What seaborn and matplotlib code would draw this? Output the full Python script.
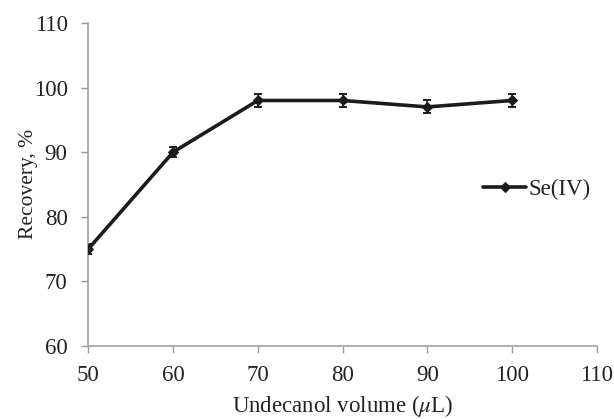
import matplotlib
matplotlib.use("Agg")
import matplotlib.pyplot as plt
import seaborn as sns
import pandas as pd

volume = [50, 60, 70, 80, 90, 100]
recovery = [75, 90, 98, 98, 97, 98]
errors = [0.8, 0.8, 1.0, 1.0, 1.0, 1.0]
series_name = "Se(IV)"
x_ticks = [50, 60, 70, 80, 90, 100, 110]
y_ticks = [60, 70, 80, 90, 100, 110]

sns.set_theme(style="ticks")
plt.rcParams['font.family'] = ['Liberation Serif', 'DejaVu Serif']
plt.rcParams['mathtext.fontset'] = 'stix'

df = pd.DataFrame({"volume": volume, "recovery": recovery, "series": series_name})

fig = plt.figure(figsize=(6.14, 4.19), dpi=100)
ax = fig.add_axes([0.144, 0.175, 0.828, 0.770])

color = "#1c1c1c"
fs = 16.5
ax.errorbar(volume, recovery, yerr=errors, fmt="none", ecolor=color,
            elinewidth=1.2, capsize=3, capthick=1.4, zorder=2)
sns.lineplot(data=df, x="volume", y="recovery", hue="series", palette=[color],
             marker="D", markersize=5, linewidth=2.6, markeredgecolor=color,
             ax=ax, zorder=3)

ax.set_xlim(50, 110)
ax.set_ylim(60, 110)
ax.set_xticks(x_ticks)
ax.set_yticks(y_ticks)
ax.tick_params(axis="both", labelsize=fs, colors="#999999", labelcolor="#222222",
               length=5, width=1, direction="out")
ax.tick_params(axis="y", pad=10)
ax.tick_params(axis="x", pad=9)
for side in ["left", "bottom"]:
    ax.spines[side].set_color("#a0a0a0")
    ax.spines[side].set_linewidth(1.2)
sns.despine(ax=ax)

ax.set_xlabel(r"Undecanol volume ($\mu$L)", fontsize=fs, color="#222222", labelpad=5)
ax.set_ylabel("Recovery, %", fontsize=15.5, color="#222222", labelpad=-3)

leg = ax.legend(loc="center left", bbox_to_anchor=(0.759, 0.485), frameon=False,
                fontsize=fs, handlelength=1.85, handletextpad=0.1, borderaxespad=0)
for t in leg.get_texts():
    t.set_color("#222222")

fig.savefig("out.png", dpi=100)
